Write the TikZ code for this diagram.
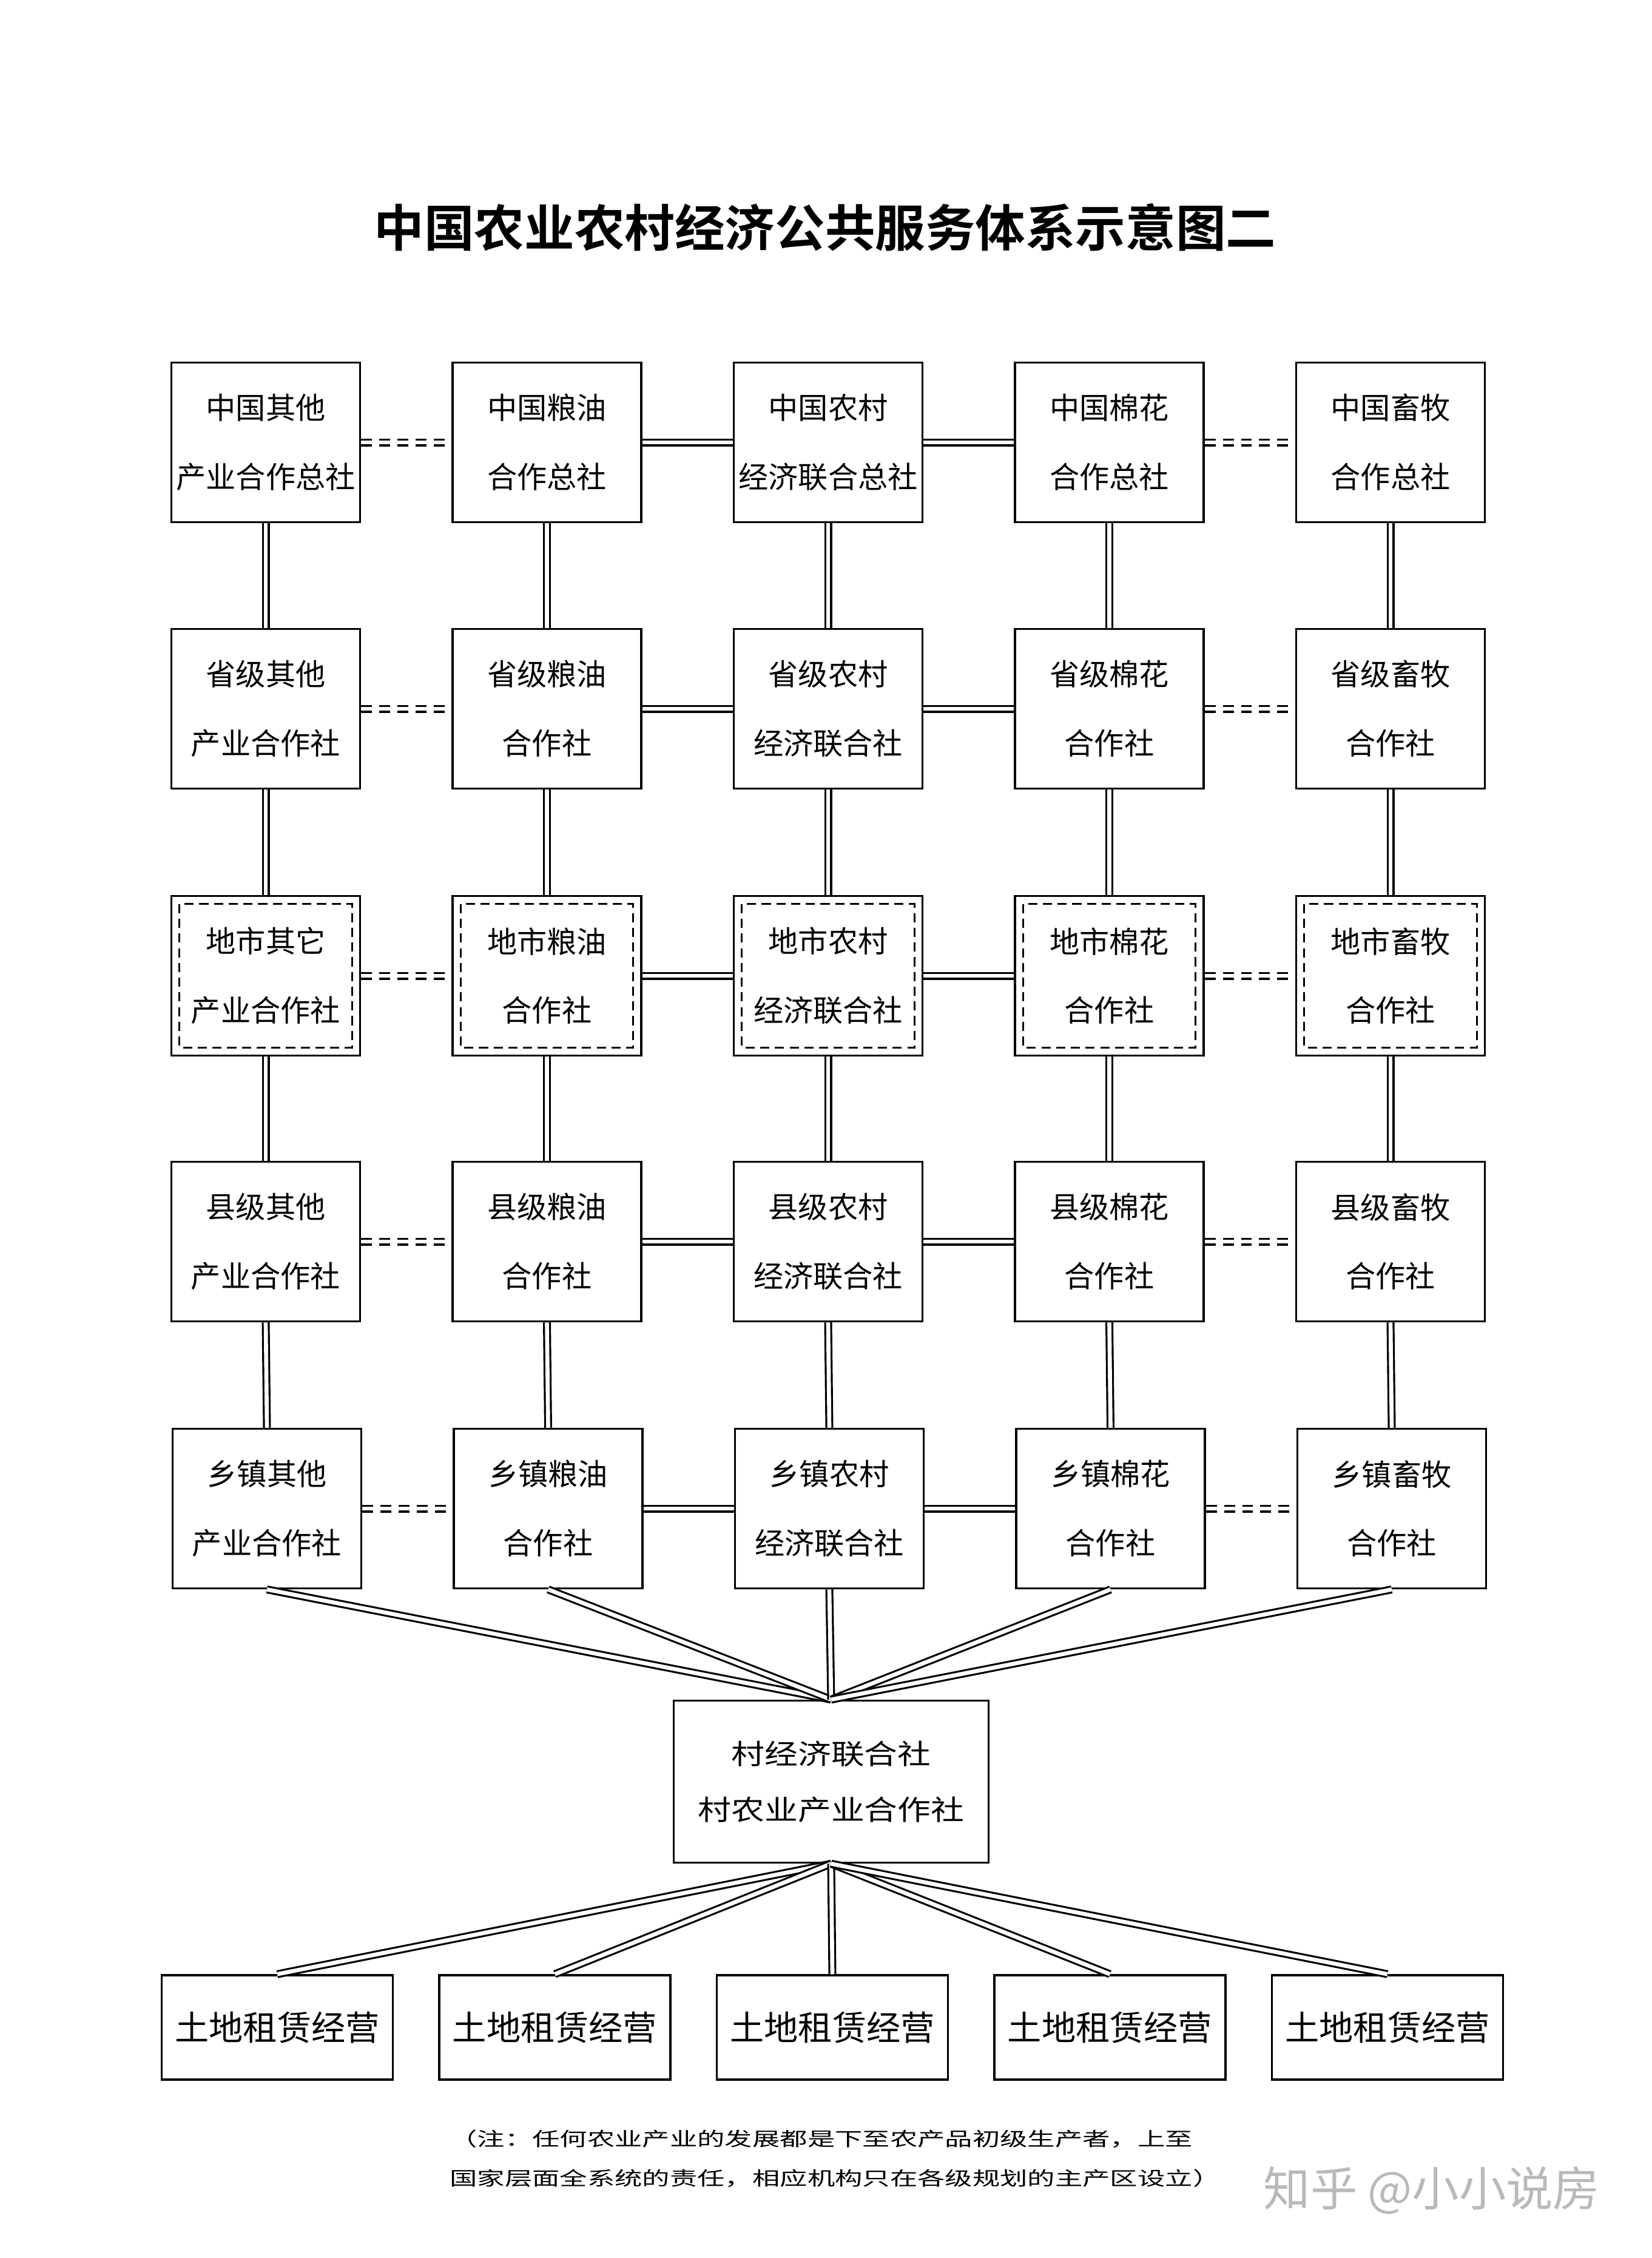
\documentclass[tikz,border=0pt]{standalone}
\usepackage{fontspec}
\setmainfont{Noto Sans CJK SC}[BoldFont={* Bold}]
\newfontfamily\widecjk[FakeStretch=1.2]{Noto Sans CJK SC}
\newfontfamily\notecjk[FakeStretch=1.45]{Noto Sans CJK SC}
\begin{document}
\begin{tikzpicture}[
    box/.style={draw, line width=1pt, minimum width=3.11cm, minimum height=2.63cm,
      inner sep=0pt, align=center, font=\fontsize{14}{32.4}\selectfont},
    cunbox/.style={draw, line width=1pt, minimum width=5.19cm, minimum height=2.67cm,
      inner sep=0pt, align=center, font=\widecjk\fontsize{13}{26.3}\selectfont},
    landbox/.style={draw, line width=1pt, minimum width=3.81cm, minimum height=1.72cm,
      inner sep=0pt, font=\fontsize{16}{19}\selectfont},
    dline/.style={line width=0.9pt, double=white, double distance=1.9pt},
    ddash/.style={dline, dash pattern=on 5.1pt off 3.4pt},
    innerdash/.style={line width=0.85pt, dash pattern=on 4.3pt off 2.6pt}]
  \useasboundingbox (0,0) rectangle (27.23,-37.21);
  % title
  \node[font=\fontsize{23.5}{28}\selectfont\bfseries] (title) at (13.60,-3.75)
    {中国农业农村经济公共服务体系示意图二};
  % national level
  \node[box] (guo1) at (4.38,-7.29) {中国其他\\产业合作总社};
  \node[box] (guo2) at (9.015,-7.29) {中国粮油\\合作总社};
  \node[box] (guo3) at (13.65,-7.29) {中国农村\\经济联合总社};
  \node[box] (guo4) at (18.285,-7.29) {中国棉花\\合作总社};
  \node[box] (guo5) at (22.92,-7.29) {中国畜牧\\合作总社};
  % province level
  \node[box] (sheng1) at (4.38,-11.68) {省级其他\\产业合作社};
  \node[box] (sheng2) at (9.015,-11.68) {省级粮油\\合作社};
  \node[box] (sheng3) at (13.65,-11.68) {省级农村\\经济联合社};
  \node[box] (sheng4) at (18.285,-11.68) {省级棉花\\合作社};
  \node[box] (sheng5) at (22.92,-11.68) {省级畜牧\\合作社};
  % city level
  \node[box] (dishi1) at (4.38,-16.08) {地市其它\\产业合作社};
  \node[box] (dishi2) at (9.015,-16.08) {地市粮油\\合作社};
  \node[box] (dishi3) at (13.65,-16.08) {地市农村\\经济联合社};
  \node[box] (dishi4) at (18.285,-16.08) {地市棉花\\合作社};
  \node[box] (dishi5) at (22.92,-16.08) {地市畜牧\\合作社};
  \foreach \c in {1,...,5}{%
    \draw[innerdash] ([shift={(0.15,-0.15)}]dishi\c.north west) rectangle
      ([shift={(-0.15,0.15)}]dishi\c.south east);}
  % county level
  \node[box] (xian1) at (4.38,-20.46) {县级其他\\产业合作社};
  \node[box] (xian2) at (9.015,-20.46) {县级粮油\\合作社};
  \node[box] (xian3) at (13.65,-20.46) {县级农村\\经济联合社};
  \node[box] (xian4) at (18.285,-20.46) {县级棉花\\合作社};
  \node[box] (xian5) at (22.92,-20.46) {县级畜牧\\合作社};
  % township level
  \node[box] (xiang1) at (4.40,-24.86) {乡镇其他\\产业合作社};
  \node[box] (xiang2) at (9.035,-24.86) {乡镇粮油\\合作社};
  \node[box] (xiang3) at (13.67,-24.86) {乡镇农村\\经济联合社};
  \node[box] (xiang4) at (18.305,-24.86) {乡镇棉花\\合作社};
  \node[box] (xiang5) at (22.94,-24.86) {乡镇畜牧\\合作社};
  % links inside each level
  \foreach \lv in {guo,sheng,dishi,xian,xiang}{%
    \draw[ddash] (\lv1.east) -- (\lv2.west);
    \draw[dline] (\lv2.east) -- (\lv3.west);
    \draw[dline] (\lv3.east) -- (\lv4.west);
    \draw[ddash] (\lv4.east) -- (\lv5.west);}
  % links between levels
  \foreach \up/\dn in {guo/sheng,sheng/dishi,dishi/xian,xian/xiang}{%
    \foreach \c in {1,...,5}{%
      \draw[dline] (\up\c.south) -- (\dn\c.north);}}
  % village cooperative
  \node[cunbox] (cun) at (13.70,-29.36) {村经济联合社\\村农业产业合作社};
  \foreach \c in {1,...,5}{%
    \draw[dline] (xiang\c.south) -- (cun.north);}
  % land leasing
  \foreach \c in {1,...,5}{%
    \node[landbox] (tudi\c) at ({4.57+4.575*(\c-1)},-33.41) {土地租赁经营};
    \draw[dline] (cun.south) -- (tudi\c.north);}
  % note
  \node[anchor=west, align=left, font=\notecjk\fontsize{8.9}{18.5}\selectfont] (zhu)
    at (7.29,-35.575) {（注：任何农业产业的发展都是下至农产品初级生产者，上至\\
    国家层面全系统的责任，相应机构只在各级规划的主产区设立）};
  % watermark
  \node[text=gray!55, font=\fontsize{22}{26}\selectfont] (shuiyin) at (23.60,-36.10)
    {知乎 @小小说房};
\end{tikzpicture}
\end{document}
